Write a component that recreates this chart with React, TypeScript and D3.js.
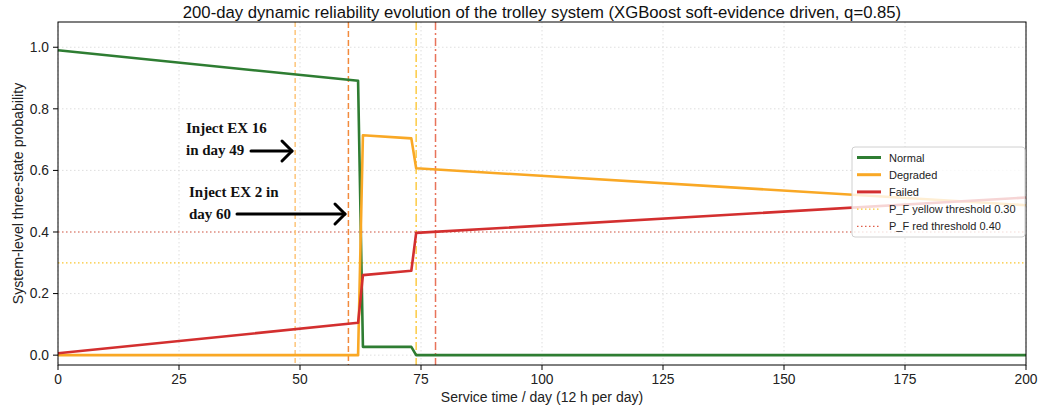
import React from "react";
import * as d3 from "d3";

const days = [0, 62, 63, 73, 74, 200];
const normal = [0.99, 0.891, 0.027, 0.027, 0.0, 0.0];
const degraded = [0.0, 0.0, 0.714, 0.704, 0.607, 0.487];
const failed = [0.006, 0.105, 0.26, 0.274, 0.397, 0.512];

const xTicks = [0, 25, 50, 75, 100, 125, 150, 175, 200];
const yTicks = [0, 0.2, 0.4, 0.6, 0.8, 1.0];

const eventDays = [49, 60, 74, 78];
const eventColors = ["#fdc57a", "#f28a3d", "#fccb45", "#e8735a"];
const eventDash = ["5,3", "6,3", "8,3,2,3", "8,3,2,3"];

const thresholds = [0.3, 0.4];
const thresholdColors = ["#f9c631", "#e0604c"];
const thresholdLabels = ["P_F yellow threshold 0.30", "P_F red threshold 0.40"];

const seriesNames = ["Normal", "Degraded", "Failed"];
const seriesColors = ["#2e7d32", "#f9a825", "#d32f2f"];

const W = 1040;
const H = 411;
const L = 58, R = 1026, T = 22, B = 365;

export default function App() {
  const x = d3.scaleLinear().domain([0, 200]).range([L, R]);
  const y = d3.scaleLinear().domain([-0.032, 1.082]).range([B, T]);
  const series = [normal, degraded, failed];
  const line = d3
    .line<[number, number]>()
    .x((d) => x(d[0]))
    .y((d) => y(d[1]));

  const sans = "'Liberation Sans', Arial, sans-serif";
  const serif = "'Liberation Serif', 'Times New Roman', serif";

  const legendItems = [
    ...seriesNames.map((n, i) => ({ label: n, color: seriesColors[i], dash: null as string | null, w: 3 })),
    ...thresholdLabels.map((n, i) => ({ label: n, color: thresholdColors[i], dash: "1.5,2.5", w: 1.2 })),
  ];

  const arrow = (x1: number, x2: number, yy: number) => (
    <g stroke="#000" strokeWidth={3} fill="none" strokeLinecap="round" strokeLinejoin="round">
      <line x1={x1} y1={yy} x2={x2} y2={yy} />
      <polyline points={`${x2 - 10},${yy - 10} ${x2},${yy} ${x2 - 10},${yy + 10}`} />
    </g>
  );

  return (
    <svg
      width={W}
      height={H}
      style={{ position: "absolute", left: 0, top: 0, background: "#fff" }}
    >
      <rect x={0} y={0} width={W} height={H} fill="#fff" />
      {/* grid */}
      {xTicks.map((t) => (
        <line key={"gx" + t} x1={x(t)} x2={x(t)} y1={T} y2={B} stroke="#d6d6d6" strokeWidth={0.8} strokeDasharray="1.5,2.5" />
      ))}
      {yTicks.map((t) => (
        <line key={"gy" + t} x1={L} x2={R} y1={y(t)} y2={y(t)} stroke="#d6d6d6" strokeWidth={0.8} strokeDasharray="1.5,2.5" />
      ))}
      {/* thresholds */}
      {thresholds.map((t, i) => (
        <line key={"th" + i} x1={L} x2={R} y1={y(t)} y2={y(t)} stroke={thresholdColors[i]} strokeWidth={1.2} strokeDasharray="1.5,2.5" />
      ))}
      {/* event lines */}
      {eventDays.map((d, i) => (
        <line key={"ev" + i} x1={x(d)} x2={x(d)} y1={T} y2={B} stroke={eventColors[i]} strokeWidth={1.5} strokeDasharray={eventDash[i]} />
      ))}
      {/* series */}
      {series.map((s, i) => (
        <path
          key={"s" + i}
          d={line(days.map((d, j) => [d, s[j]] as [number, number])) || ""}
          fill="none"
          stroke={seriesColors[i]}
          strokeWidth={2.6}
          strokeLinejoin="round"
        />
      ))}
      {/* frame */}
      <rect x={L} y={T} width={R - L} height={B - T} fill="none" stroke="#000" strokeWidth={1} />
      {/* x ticks */}
      {xTicks.map((t) => (
        <g key={"xt" + t}>
          <line x1={x(t)} x2={x(t)} y1={B} y2={B + 5} stroke="#000" strokeWidth={1} />
          <text x={x(t)} y={384} textAnchor="middle" fontFamily={sans} fontSize={13.8} fill="#222">
            {t}
          </text>
        </g>
      ))}
      {yTicks.map((t) => (
        <g key={"yt" + t}>
          <line x1={L - 5} x2={L} y1={y(t)} y2={y(t)} stroke="#000" strokeWidth={1} />
          <text x={L - 9} y={y(t) + 4.8} textAnchor="end" fontFamily={sans} fontSize={13.8} fill="#222">
            {t.toFixed(1)}
          </text>
        </g>
      ))}
      {/* labels */}
      <text x={(L + R) / 2} y={18} textAnchor="middle" fontFamily={sans} fontSize={16.7} fill="#111">
        200-day dynamic reliability evolution of the trolley system (XGBoost soft-evidence driven, q=0.85)
      </text>
      <text x={(L + R) / 2} y={402} textAnchor="middle" fontFamily={sans} fontSize={14} fill="#222">
        Service time / day (12 h per day)
      </text>
      <text
        transform={`translate(23, ${(T + B) / 2}) rotate(-90)`}
        textAnchor="middle"
        fontFamily={sans}
        fontSize={14.2}
        fill="#222"
      >
        System-level three-state probability
      </text>
      {/* annotations */}
      <text x={186} y={133} fontFamily={serif} fontWeight="bold" fontSize={15} fill="#111">Inject EX 16</text>
      <text x={186} y={155} fontFamily={serif} fontWeight="bold" fontSize={15} fill="#111">in day 49</text>
      {arrow(251, 292, 151)}
      <text x={189} y={197} fontFamily={serif} fontWeight="bold" fontSize={15} fill="#111">Inject EX 2 in</text>
      <text x={189} y={219} fontFamily={serif} fontWeight="bold" fontSize={15} fill="#111">day 60</text>
      {arrow(237, 345, 214)}
      {/* legend */}
      <g>
        <rect x={852} y={147} width={173} height={90} rx={3} fill="#fff" fillOpacity={0.8} stroke="#d0d0d0" strokeWidth={1} />
        {legendItems.map((it, i) => {
          const yy = 157.5 + i * 17.2;
          return (
            <g key={"lg" + i}>
              <line x1={857} x2={881} y1={yy} y2={yy} stroke={it.color} strokeWidth={it.w} strokeDasharray={it.dash || undefined} />
              <text x={889} y={yy + 4} fontFamily={sans} fontSize={11} fill="#222">
                {it.label}
              </text>
            </g>
          );
        })}
      </g>
    </svg>
  );
}
